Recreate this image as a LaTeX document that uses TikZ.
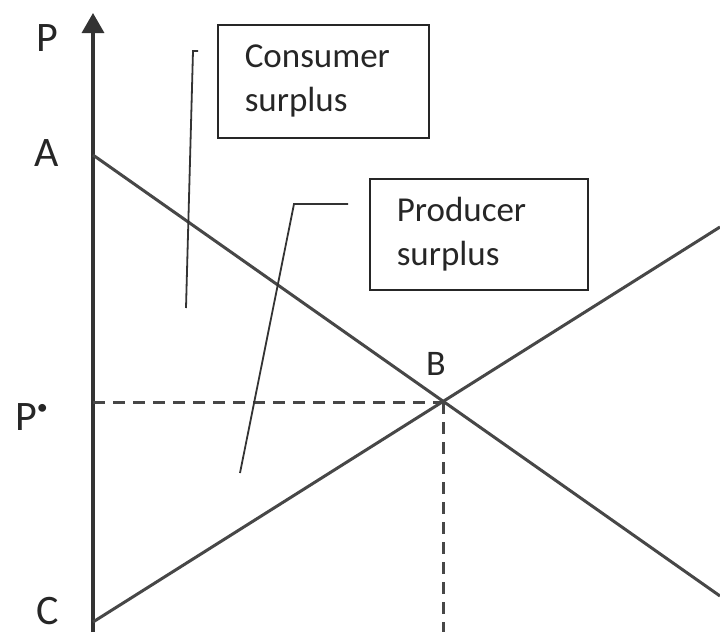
\documentclass[tikz,border=0pt]{standalone}
\usepackage{fontspec}
\setmainfont{Carlito}
\usepackage{tikz}
\usetikzlibrary{arrows.meta,positioning}

\begin{document}
\begin{tikzpicture}[
  x=1pt, y=-1pt,
  axis/.style={line width=3.4pt, draw=black!80, -{Triangle[width=22pt,length=20pt]}},
  curve/.style={line width=3pt, draw=black!72},
  guide/.style={line width=3pt, draw=black!72, dash pattern=on 12pt off 8pt},
  leader/.style={line width=1.8pt, draw=black!80},
  lbl/.style={text=black!85, font=\fontsize{42}{42}\selectfont, inner sep=0pt},
  surplusbox/.style={draw=black!85, line width=1.6pt, align=left, text=black!85,
              font=\fontsize{35}{44}\selectfont, inner xsep=27pt, anchor=north west}
]
\useasboundingbox (0,0) rectangle (720,632);

% axis and curves
\coordinate (bottom) at (93,632);
\coordinate (top) at (93,13);
\coordinate (A) at (93,155);
\coordinate (C) at (93,622);
\coordinate (B) at (443,402);
\coordinate (Pstar) at (93,402);
\coordinate (Q) at (443,632);
\coordinate (dend) at (720,596);
\coordinate (send) at (720,227);

\draw[axis] (bottom) -- (top);
\draw[curve] (A) -- (dend);
\draw[curve] (C) -- (send);
\draw[guide] (Pstar) -- (B);
\draw[guide] (B) -- (Q);

% labels
\node[lbl] (labP) at (47,38) {P};
\node[lbl] (labA) at (47,153) {A};
\node[lbl, anchor=west] (labPs) at (15,417) {P\raisebox{16pt}{\fontsize{22}{22}\selectfont\textbullet}};
\node[lbl] (labC) at (48,611) {C};
\node[lbl, font=\fontsize{36}{36}\selectfont] (labB) at (436,364) {B};

% boxes
\node[surplusbox, minimum width=211pt, minimum height=113pt, text width=157pt]
  (consumer) at (217,24) {Consumer\\surplus};
\node[surplusbox, minimum width=218pt, minimum height=111pt, text width=164pt]
  (producer) at (369,178) {Producer\\surplus};

% leader lines
\coordinate (c1) at (198,51);
\coordinate (c2) at (193,51);
\coordinate (c3) at (186,308);
\draw[leader] (c1) -- (c2) -- (c3);
\coordinate (p1) at (348,204);
\coordinate (p2) at (294,204);
\coordinate (p3) at (240,473);
\draw[leader] (p1) -- (p2) -- (p3);
\end{tikzpicture}
\end{document}
